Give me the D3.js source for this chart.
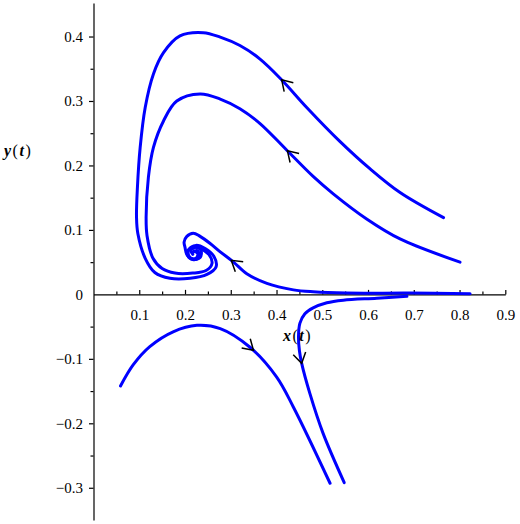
<!DOCTYPE html>
<html>
<head>
<meta charset="utf-8">
<title>phase portrait</title>
<script src="https://d3js.org/d3.v7.min.js"></script>
<style>
  body { margin: 0; background: #fff; }
  text { font-family: "Liberation Serif", "Times New Roman", serif; }
</style>
</head>
<body>
<script>
// trajectories in (x(t), y(t)), listed in the direction of the flow
var trajA = [[0.765,0.119],[0.670,0.158],[0.604,0.195],[0.539,0.237],[0.466,0.290],[0.411,0.333],
  [0.364,0.365],[0.320,0.386],[0.277,0.399],[0.240,0.406],[0.189,0.401],[0.153,0.375],[0.131,0.342],
  [0.113,0.290],[0.102,0.228],[0.096,0.166],[0.094,0.120],[0.097,0.094],[0.113,0.056],[0.134,0.034],
  [0.167,0.025],[0.211,0.025],[0.248,0.031],[0.268,0.043],[0.263,0.059],[0.244,0.071],[0.224,0.076],
  [0.209,0.070],[0.209,0.059],[0.222,0.054],[0.233,0.060],[0.226,0.068],[0.217,0.065]];
var trajB = [[0.801,0.050],[0.670,0.086],[0.597,0.117],[0.524,0.156],[0.480,0.183],[0.422,0.224],
  [0.364,0.265],[0.320,0.288],[0.277,0.303],[0.233,0.311],[0.182,0.300],[0.153,0.269],[0.131,0.228],
  [0.120,0.182],[0.115,0.120],[0.117,0.091],[0.130,0.056],[0.150,0.040],[0.178,0.033],[0.217,0.033],
  [0.246,0.037],[0.259,0.048],[0.252,0.062],[0.233,0.071],[0.215,0.073],[0.204,0.065],[0.211,0.056],
  [0.224,0.056],[0.228,0.063],[0.220,0.067]];
var trajC = [[0.823,0.001],[0.692,0.002],[0.553,0.002],[0.480,0.004],[0.437,0.007],[0.379,0.017],
  [0.335,0.032],[0.306,0.050],[0.277,0.066],[0.255,0.079],[0.233,0.090],[0.218,0.095],[0.204,0.090],
  [0.198,0.081],[0.200,0.073],[0.204,0.062],[0.217,0.054],[0.233,0.057],[0.235,0.068],[0.224,0.073],
  [0.213,0.068],[0.217,0.062]];
var trajD = [[0.685,-0.003],[0.619,-0.006],[0.546,-0.009],[0.510,-0.013],[0.480,-0.021],[0.462,-0.030],
  [0.451,-0.045],[0.448,-0.066],[0.450,-0.087],[0.455,-0.107],[0.473,-0.154],[0.502,-0.216],[0.548,-0.292]];
var trajE = [[0.059,-0.142],[0.087,-0.109],[0.123,-0.081],[0.174,-0.058],[0.226,-0.048],[0.277,-0.053],
  [0.342,-0.082],[0.400,-0.128],[0.437,-0.175],[0.517,-0.293]];

var trajectories = [trajA, trajB, trajC, trajD, trajE];

// where the direction arrows sit (trajectory index, point on it)
var arrowCurve = [0, 1, 2, 3, 4];
var arrowAt = [[0.411,0.333],[0.422,0.222],[0.302,0.054],[0.455,-0.107],[0.349,-0.087]];

var xTicks = [0.1,0.2,0.3,0.4,0.5,0.6,0.7,0.8,0.9];
var xMinor = [0.05,0.15,0.25,0.35,0.45,0.55,0.65,0.75,0.85];
var yTicks = [-0.3,-0.2,-0.1,0,0.1,0.2,0.3,0.4];
var yMinor = [-0.25,-0.15,-0.05,0.05,0.15,0.25,0.35];

var width = 520, height = 524;

var svg = d3.select("body").append("svg")
    .attr("width", width)
    .attr("height", height);

var x = d3.scaleLinear().domain([0, 0.9]).range([93.5, 505.3]);
var y = d3.scaleLinear().domain([-0.35, 0.452]).range([520, 3]);

function fmt(d) { return d < 0 ? "\u2212" + Math.abs(d) : String(d); }

// x axis, ticks point up
var gx = svg.append("g").attr("transform", "translate(0," + y(0) + ")");
gx.call(d3.axisBottom(x).tickValues(xTicks).tickSizeInner(-4.5).tickSizeOuter(0)
    .tickPadding(15).tickFormat(fmt));
gx.append("g").call(d3.axisBottom(x).tickValues(xMinor).tickSizeInner(-3).tickSizeOuter(0)
    .tickFormat(""))
  .select(".domain").remove();

// y axis, ticks point left
var gy = svg.append("g").attr("transform", "translate(" + x(0) + ",0)");
gy.call(d3.axisLeft(y).tickValues(yTicks).tickSizeInner(4.5).tickSizeOuter(0)
    .tickPadding(6).tickFormat(fmt));
gy.append("g").call(d3.axisLeft(y).tickValues(yMinor).tickSizeInner(3).tickSizeOuter(0)
    .tickFormat(""))
  .select(".domain").remove();

svg.selectAll(".domain").attr("stroke", "#000").attr("stroke-width", 1.2);
svg.selectAll(".tick line").attr("stroke", "#000").attr("stroke-width", 1.2);
svg.selectAll(".tick text")
   .attr("font-size", 15)
   .attr("fill", "#000");
gy.selectAll(".tick").filter(function(d) { return d === 0; }).select("line").remove();

// trajectories
var line = d3.line()
    .x(function(d) { return x(d[0]); })
    .y(function(d) { return y(d[1]); })
    .curve(d3.curveCatmullRom.alpha(0.5));

var paths = svg.append("g").selectAll("path")
    .data(trajectories)
    .enter()
    .append("path")
    .attr("d", line)
    .attr("fill", "none")
    .attr("stroke", "#0000ff")
    .attr("stroke-width", 3)
    .attr("stroke-linecap", "round")
    .attr("stroke-linejoin", "round");

// open arrowheads along the flow
var nodes = paths.nodes();
var ga = svg.append("g");
arrowAt.forEach(function(p, i) {
  var node = nodes[arrowCurve[i]];
  var L = node.getTotalLength();
  var px = x(p[0]), py = y(p[1]);
  var best = 0, bestD = Infinity;
  for (var l = 0; l <= L; l += 0.5) {
    var q = node.getPointAtLength(l);
    var dd = (q.x - px) * (q.x - px) + (q.y - py) * (q.y - py);
    if (dd < bestD) { bestD = dd; best = l; }
  }
  var tip = node.getPointAtLength(best);
  var a = node.getPointAtLength(Math.max(0, best - 3));
  var b = node.getPointAtLength(Math.min(L, best + 3));
  var th = Math.atan2(b.y - a.y, b.x - a.x);
  var len = 12, half = 32 * Math.PI / 180;
  var p1 = [tip.x - len * Math.cos(th - half), tip.y - len * Math.sin(th - half)];
  var p2 = [tip.x - len * Math.cos(th + half), tip.y - len * Math.sin(th + half)];
  ga.append("path")
    .attr("d", "M" + p1 + "L" + [tip.x, tip.y] + "L" + p2)
    .attr("fill", "none")
    .attr("stroke", "#000")
    .attr("stroke-width", 1.5);
});

// axis titles, on top of the curves
function axisTitle(v, tx, ty) {
  var t = svg.append("text").attr("x", tx).attr("y", ty)
      .attr("font-size", 16).attr("letter-spacing", 1.5);
  t.append("tspan").attr("font-weight", "bold").attr("font-style", "italic").text(v);
  t.append("tspan").text("(");
  t.append("tspan").attr("font-weight", "bold").attr("font-style", "italic").text("t");
  t.append("tspan").text(")");
}
axisTitle("x", 283, 341);
axisTitle("y", 4, 156);
</script>
</body>
</html>
